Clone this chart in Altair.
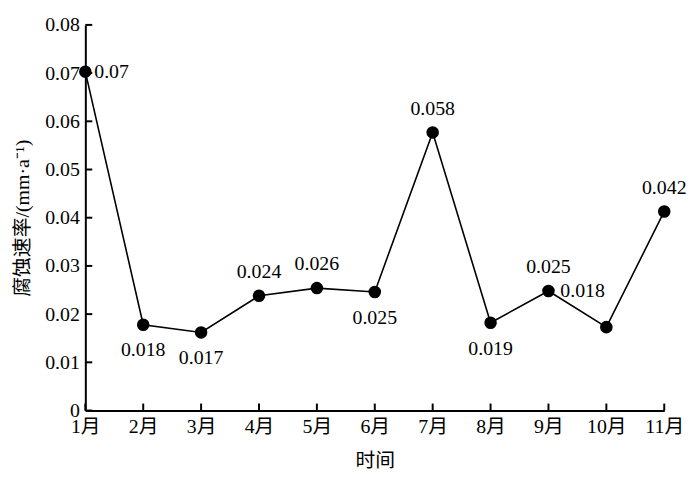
import altair as alt
import pandas as pd

months = ["1月", "2月", "3月", "4月", "5月", "6月", "7月", "8月", "9月", "10月", "11月"]
rates = [0.0703, 0.0178, 0.0162, 0.0238, 0.0254, 0.0246, 0.0577, 0.0182, 0.0248, 0.0173, 0.0413]
labels = ["0.07", "0.018", "0.017", "0.024", "0.026", "0.025", "0.058", "0.019", "0.025", "0.018", "0.042"]
placement = ["right", "below", "below", "above", "above", "below", "above", "below", "above", "upleft", "above"]
y_ticks = [0, 0.01, 0.02, 0.03, 0.04, 0.05, 0.06, 0.07, 0.08]

df = pd.DataFrame({"month": months, "rate": rates, "label": labels, "pos": placement})
tick_df = pd.DataFrame({"v": y_ticks})

W, H = 584, 389
FONT = "'Liberation Serif', 'Times New Roman', 'Noto Sans CJK SC', serif"

x_enc = alt.X("month:O", sort=months,
              scale=alt.Scale(type="point", padding=0),
              axis=alt.Axis(title="时间", labelAngle=0, ticks=False, labelPadding=6,
                            titlePadding=14, domainWidth=2, domainColor="black"))
y_scale = alt.Scale(domain=[0, 0.08], nice=False)
y_enc = alt.Y("rate:Q", scale=y_scale,
              axis=alt.Axis(title="腐蚀速率/(mm·a⁻¹)", values=y_ticks, format="~g",
                            ticks=False, labelPadding=6, titlePadding=12,
                            domainWidth=2, domainColor="black"))

base = alt.Chart(df).encode(x=x_enc, y=y_enc)
line = base.mark_line(color="black", strokeWidth=1.6)
pts = base.mark_circle(color="black", size=160, opacity=1)

def txt(pos, **kw):
    return base.transform_filter(alt.datum.pos == pos).mark_text(
        font=FONT, fontSize=20, color="black", baseline="middle", **kw
    ).encode(text="label:N")

t_right = txt("right", align="left", dx=9)
t_below = txt("below", dy=26)
t_above = txt("above", dy=-24)
t_upleft = txt("upleft", dx=-24, dy=-36)

yticks = alt.Chart(tick_df).mark_rule(color="black", strokeWidth=2).encode(
    y=alt.Y("v:Q", scale=y_scale), x=alt.value(0), x2=alt.value(7))
xticks = alt.Chart(df).mark_rule(color="black", strokeWidth=2).encode(
    x=alt.X("month:O", sort=months, scale=alt.Scale(type="point", padding=0)),
    y=alt.value(H), y2=alt.value(H - 7))

chart = alt.layer(line, pts, t_right, t_below, t_above, t_upleft, yticks, xticks).properties(
    width=W, height=H
).configure_view(stroke=None).configure_axis(
    labelFont=FONT, titleFont=FONT, labelFontSize=20, titleFontSize=20,
    labelColor="black", titleColor="black", titleFontWeight="normal", grid=False
)

chart.save("out.html", embed_options={"renderer": "svg", "actions": False})
